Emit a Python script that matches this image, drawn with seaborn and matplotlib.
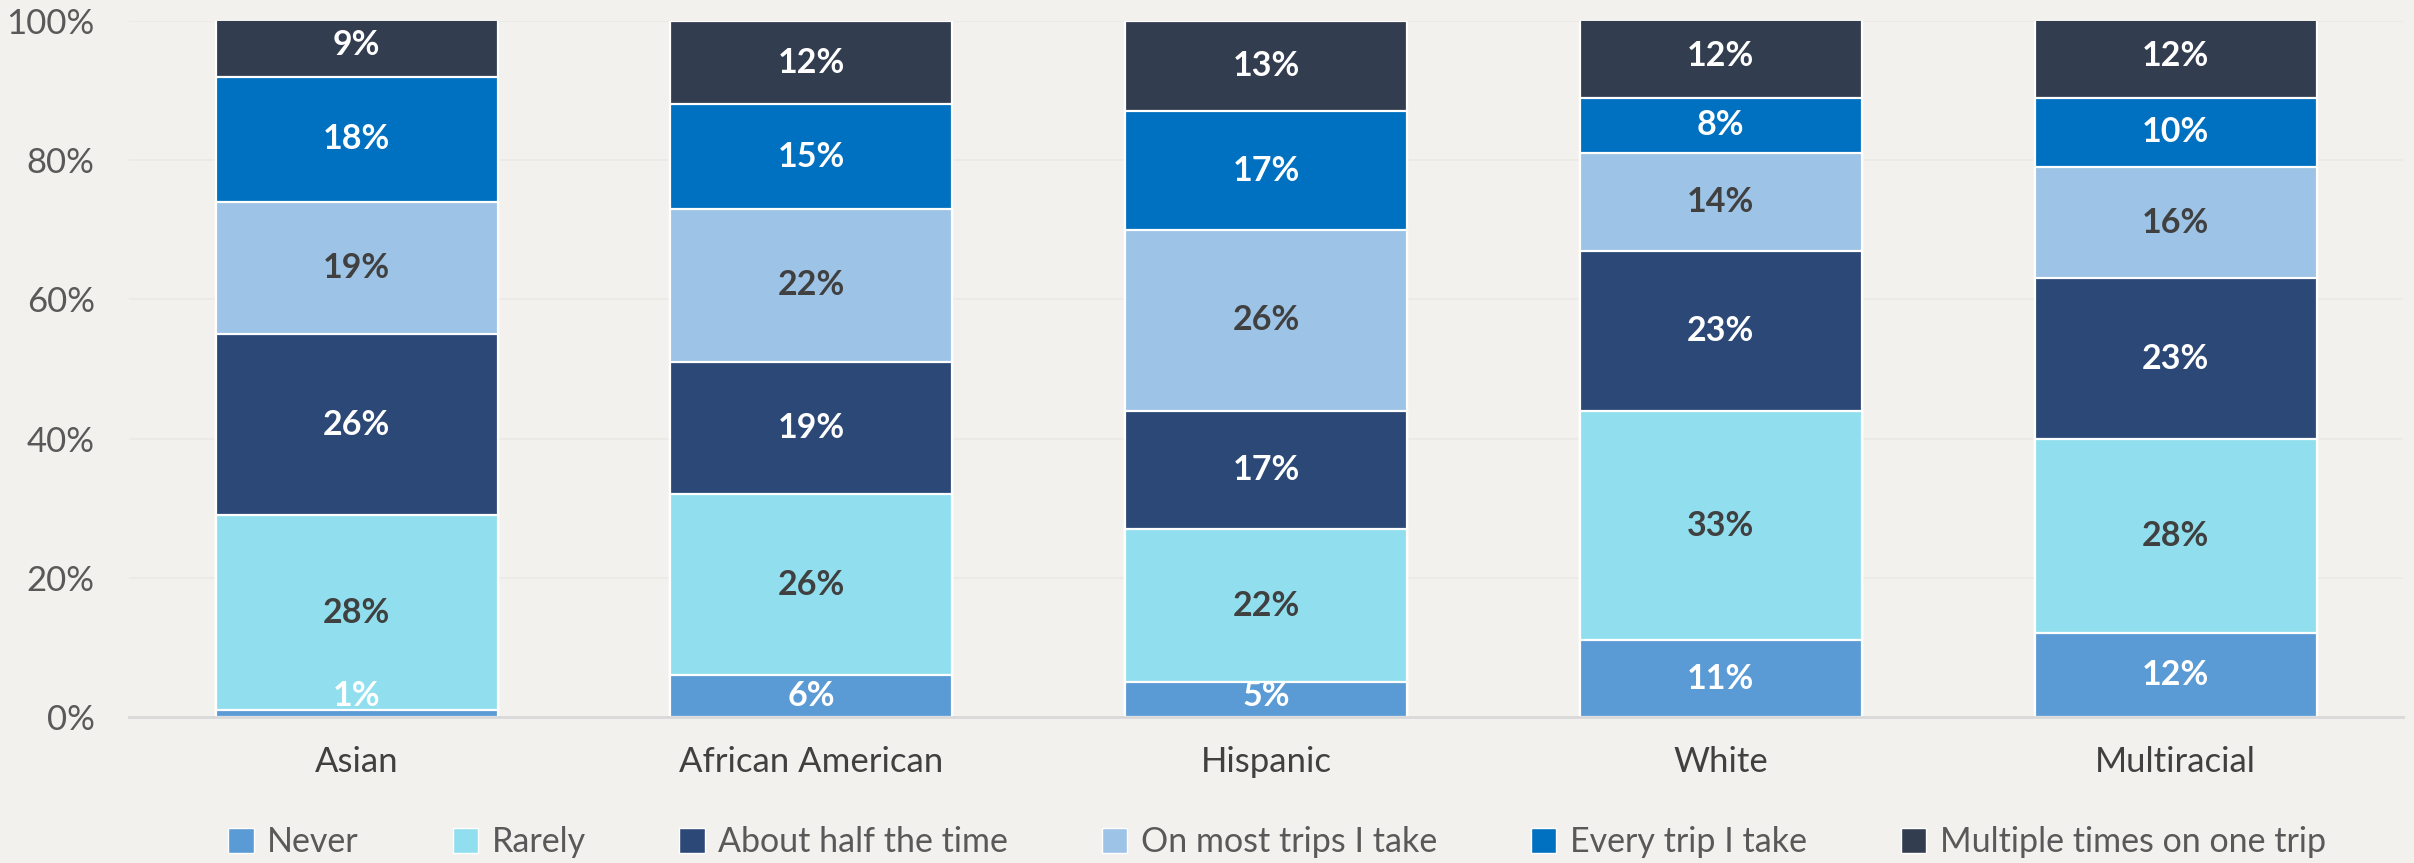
import matplotlib
matplotlib.use("Agg")
import matplotlib.pyplot as plt
from matplotlib.patches import Patch
import numpy as np
import pandas as pd
import seaborn as sns

# Survey responses by group (percent of respondents)
groups = ["Asian", "African American", "Hispanic", "White", "Multiracial"]
responses = ["Never", "Rarely", "About half the time", "On most trips I take",
             "Every trip I take", "Multiple times on one trip"]
never = [1, 6, 5, 11, 12]
rarely = [28, 26, 22, 33, 28]
about_half = [26, 19, 17, 23, 23]
most_trips = [19, 22, 26, 14, 16]
every_trip = [18, 15, 17, 8, 10]
multiple = [9, 12, 13, 12, 12]
y_ticks = [0, 20, 40, 60, 80, 100]

series = [never, rarely, about_half, most_trips, every_trip, multiple]
colors = ["#5B9BD5", "#91DFEE", "#2C4877", "#9DC3E6", "#0070C0", "#333D50"]
label_colors = ["white", "#404040", "white", "#404040", "white", "white"]

bg = "#F2F1EE"
sns.set_theme(style="white")
plt.rcParams["font.family"] = ["Lato", "DejaVu Sans"]

fig = plt.figure(figsize=(24.14, 8.63), dpi=100, facecolor=bg)
ax = fig.add_axes([0.0536, 0.1692, 0.9418, 0.8065])
ax.set_facecolor(bg)

vals = np.array(series, dtype=float)
cum = np.cumsum(vals, axis=0)

# stacked bars: draw cumulative totals from the top series down
for k in range(len(responses) - 1, -1, -1):
    df = pd.DataFrame({"group": groups, "value": cum[k]})
    sns.barplot(data=df, x="group", y="value", order=groups, color=colors[k],
                width=0.62, edgecolor="white", linewidth=1.6,
                saturation=1, errorbar=None, ax=ax, zorder=2)

# segment value labels
for k in range(len(responses)):
    for i in range(len(groups)):
        v = vals[k, i]
        bottom = cum[k, i] - v
        mid = bottom + v / 2
        y = max(mid, 3.0) if k == 0 else mid
        ax.text(i, y, f"{int(v)}%", ha="center", va="center",
                fontsize=24.5, fontweight="bold", color=label_colors[k], zorder=5)

ax.set_xlim(-0.5, len(groups) - 0.5)
ax.set_ylim(0, 100)
ax.set_yticks(y_ticks)
ax.set_yticklabels([f"{t}%" for t in y_ticks])
ax.set_xlabel("")
ax.set_ylabel("")
ax.tick_params(axis="y", length=0, pad=25, labelsize=25, labelcolor="#595959")
ax.tick_params(axis="x", length=0, pad=21, labelsize=25, labelcolor="#404040")

ax.grid(axis="y", color="#EAE9E6", linewidth=1.2, zorder=0)
ax.set_axisbelow(True)
for s in ["top", "right", "left"]:
    ax.spines[s].set_visible(False)
ax.spines["bottom"].set_color("#D9D9D9")
ax.spines["bottom"].set_linewidth(2)

handles = [Patch(facecolor=c, edgecolor="white", linewidth=1) for c in colors]
fig.legend(handles, responses, loc="center", bbox_to_anchor=(0.529, 0.024),
           ncol=6, frameon=False, fontsize=24.5, labelcolor="#595959",
           handlelength=0.75, handleheight=0.75, handletextpad=0.4,
           columnspacing=2.75)

fig.savefig("out.png", dpi=100, facecolor=bg)
